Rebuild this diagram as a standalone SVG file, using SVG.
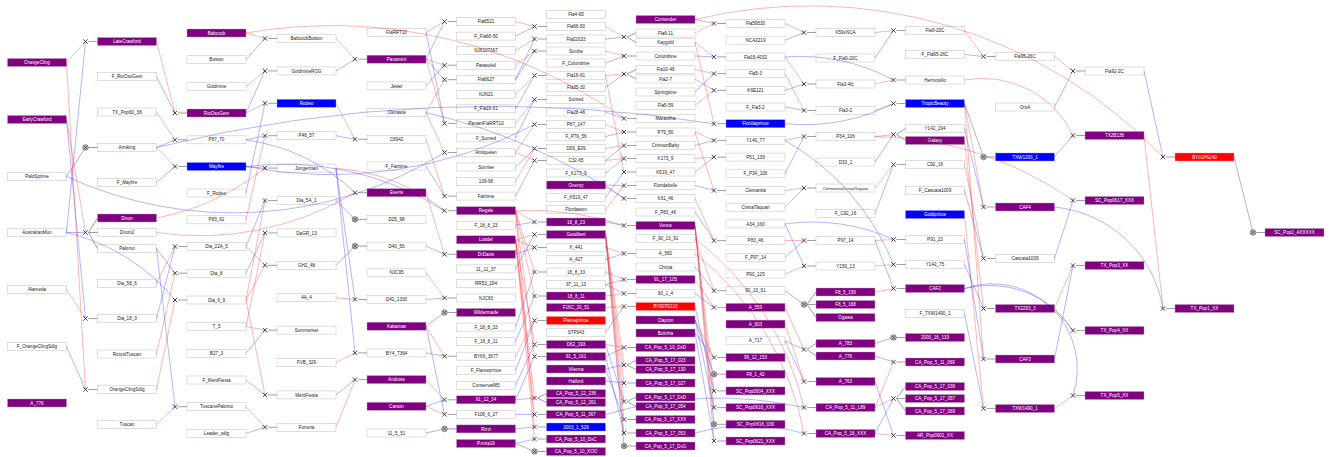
<svg xmlns="http://www.w3.org/2000/svg" xmlns:xlink="http://www.w3.org/1999/xlink" width="1329" height="457" viewBox="0 0 1329 457">
<style>
rect{width:59px;height:8px}
.w{fill:#fff;stroke:#c8c8c8;stroke-width:.6}
.p{fill:#800080;stroke:#b9a0c0;stroke-width:.4}
.b{fill:#0000ff;stroke:#a0a0ff;stroke-width:.4}
.rd{fill:#ff0000;stroke:#ffa0a0;stroke-width:.4}
text{font-family:"Liberation Sans",Arial,sans-serif;font-size:4.6px;text-anchor:middle}
.tk{fill:#222}
.tw{fill:#fff}
#conn path{fill:none;stroke-width:.9}
#conn .r{stroke:#ff0000;stroke-opacity:.33}
#conn .u{stroke:#0000ff;stroke-opacity:.33}
#conn .s{stroke:#8a6a90;stroke-opacity:.6}
#conn .g{stroke:#777;stroke-width:.7}
</style>
<defs>
<g id="cx"><path d="M-2.2-2.2L2.2 2.2M-2.2 2.2L2.2-2.2" fill="none" stroke="#333" stroke-width=".9"/></g>
<g id="co"><circle r="2.8" fill="#bbb" stroke="#555" stroke-width=".6"/><path d="M-1.7-1.7L1.7 1.7M-1.7 1.7L1.7-1.7" fill="none" stroke="#333" stroke-width=".7"/></g>
</defs>
<rect x="0" y="0" style="width:1329px;height:457px" fill="#fff"/>
<g id="nodes">
<g id="n-OrangeCling"><rect class="p" x="7.5" y="58.5"/><text class="tw" x="37" y="64.1">OrangeCling</text></g>
<g id="n-EarlyCrawford"><rect class="p" x="7.5" y="115.5"/><text class="tw" x="37" y="121.1">EarlyCrawford</text></g>
<g id="n-PaloSprime"><rect class="w" x="7.5" y="172.5"/><text class="tk" x="37" y="178.1">PaloSprime</text></g>
<g id="n-AustralianMun"><rect class="w" x="7.5" y="228.5"/><text class="tk" x="37" y="234.1">AustralianMun</text></g>
<g id="n-Alameda"><rect class="w" x="7.5" y="285.5"/><text class="tk" x="37" y="291.1">Alameda</text></g>
<g id="n-F_OrangeClingSdlg"><rect class="w" x="7.5" y="342.5"/><text class="tk" x="37" y="348.1">F_OrangeClingSdlg</text></g>
<g id="n-A_776"><rect class="p" x="7.5" y="399"/><text class="tw" x="37" y="404.6">A_776</text></g>

<g id="n-LateCrawford"><rect class="p" x="97.5" y="37.5"/><text class="tw" x="127" y="43.1">LateCrawford</text></g>
<g id="n-F_RioOsoGem"><rect class="w" x="97.5" y="72.5"/><text class="tk" x="127" y="78.1">F_RioOsoGem</text></g>
<g id="n-TX_Pop60_38"><rect class="w" x="97.5" y="108"/><text class="tk" x="127" y="113.6">TX_Pop60_38</text></g>
<g id="n-Armking"><rect class="w" x="97.5" y="143.5"/><text class="tk" x="127" y="149.1">Armking</text></g>
<g id="n-F_Mayfire"><rect class="w" x="97.5" y="178.5"/><text class="tk" x="127" y="184.1">F_Mayfire</text></g>
<g id="n-Dixon"><rect class="p" x="97.5" y="214"/><text class="tw" x="127" y="219.6">Dixon</text></g>
<g id="n-Dixon2"><rect class="w" x="97.5" y="228.5"/><text class="tk" x="127" y="234.1">Dixon2</text></g>
<g id="n-Palomo"><rect class="w" x="97.5" y="244.5"/><text class="tk" x="127" y="250.1">Palomo</text></g>
<g id="n-Dia_58_6"><rect class="w" x="97.5" y="279.5"/><text class="tk" x="127" y="285.1">Dia_58_6</text></g>
<g id="n-Dia_18_3"><rect class="w" x="97.5" y="314.5"/><text class="tk" x="127" y="320.1">Dia_18_3</text></g>
<g id="n-RoundTuscan"><rect class="w" x="97.5" y="350"/><text class="tk" x="127" y="355.6">RoundTuscan</text></g>
<g id="n-OrangeClingSdlg"><rect class="w" x="97.5" y="385.5"/><text class="tk" x="127" y="391.1">OrangeClingSdlg</text></g>
<g id="n-Tuscan"><rect class="w" x="97.5" y="420.5"/><text class="tk" x="127" y="426.1">Tuscan</text></g>

<g id="n-Babcock"><rect class="p" x="187" y="29"/><text class="tw" x="216.5" y="34.6">Babcock</text></g>
<g id="n-Boston"><rect class="w" x="187" y="55.7"/><text class="tk" x="216.5" y="61.3">Boston</text></g>
<g id="n-Goldmine"><rect class="w" x="187" y="82.4"/><text class="tk" x="216.5" y="88">Goldmine</text></g>
<g id="n-RioOsoGem"><rect class="p" x="187" y="109"/><text class="tw" x="216.5" y="114.6">RioOsoGem</text></g>
<g id="n-P87_70"><rect class="w" x="187" y="135.8"/><text class="tk" x="216.5" y="141.4">P87_70</text></g>
<g id="n-Mayfire"><rect class="b" x="187" y="162.5"/><text class="tw" x="216.5" y="168.1">Mayfire</text></g>
<g id="n-F_Rodeo"><rect class="w" x="187" y="189"/><text class="tk" x="216.5" y="194.6">F_Rodeo</text></g>
<g id="n-P83_62"><rect class="w" x="187" y="215.8"/><text class="tk" x="216.5" y="221.4">P83_62</text></g>
<g id="n-Dia_22A_5"><rect class="w" x="187" y="242.5"/><text class="tk" x="216.5" y="248.1">Dia_22A_5</text></g>
<g id="n-Dia_8"><rect class="w" x="187" y="269.2"/><text class="tk" x="216.5" y="274.8">Dia_8</text></g>
<g id="n-Dia_6_9"><rect class="w" x="187" y="296"/><text class="tk" x="216.5" y="301.6">Dia_6_9</text></g>
<g id="n-T_5"><rect class="w" x="187" y="322.6"/><text class="tk" x="216.5" y="328.2">T_5</text></g>
<g id="n-B27_3"><rect class="w" x="187" y="349.3"/><text class="tk" x="216.5" y="354.9">B27_3</text></g>
<g id="n-F_MeritFiesta"><rect class="w" x="187" y="376"/><text class="tk" x="216.5" y="381.6">F_MeritFiesta</text></g>
<g id="n-TuscanePalomo"><rect class="w" x="187" y="402.7"/><text class="tk" x="216.5" y="408.3">TuscanePalomo</text></g>
<g id="n-Leader_sdlg"><rect class="w" x="187" y="429.4"/><text class="tk" x="216.5" y="435">Leader_sdlg</text></g>

<g id="n-BabcockBoston"><rect class="w" x="277" y="34.5"/><text class="tk" x="306.5" y="40.1">BabcockBoston</text></g>
<g id="n-GoldmineROG"><rect class="w" x="277" y="66.9"/><text class="tk" x="306.5" y="72.5">GoldmineROG</text></g>
<g id="n-Rodeo"><rect class="b" x="277" y="99.3"/><text class="tw" x="306.5" y="104.9">Rodeo</text></g>
<g id="n-P46_57"><rect class="w" x="277" y="131.7"/><text class="tk" x="306.5" y="137.3">P46_57</text></g>
<g id="n-Jungerman"><rect class="w" x="277" y="164.1"/><text class="tk" x="306.5" y="169.7">Jungerman</text></g>
<g id="n-Dia_5A_1"><rect class="w" x="277" y="196.5"/><text class="tk" x="306.5" y="202.1">Dia_5A_1</text></g>
<g id="n-DaGR_13"><rect class="w" x="277" y="228.9"/><text class="tk" x="306.5" y="234.5">DaGR_13</text></g>
<g id="n-GH2_48"><rect class="w" x="277" y="261.3"/><text class="tk" x="306.5" y="266.9">GH2_48</text></g>
<g id="n-4A_4"><rect class="w" x="277" y="293.7"/><text class="tk" x="306.5" y="299.3">4A_4</text></g>
<g id="n-Summerset"><rect class="w" x="277" y="326.1"/><text class="tk" x="306.5" y="331.7">Summerset</text></g>
<g id="n-FVB_329"><rect class="w" x="277" y="358.5"/><text class="tk" x="306.5" y="364.1">FVB_329</text></g>
<g id="n-MeritFiesta"><rect class="w" x="277" y="390.9"/><text class="tk" x="306.5" y="396.5">MeritFiesta</text></g>
<g id="n-Fortuna"><rect class="w" x="277" y="423.3"/><text class="tk" x="306.5" y="428.9">Fortuna</text></g>

<g id="n-FlaRRT10"><rect class="w" x="367" y="28.5"/><text class="tk" x="396.5" y="34.1">FlaRRT10</text></g>
<g id="n-Panamint"><rect class="p" x="367" y="55.2"/><text class="tw" x="396.5" y="60.8">Panamint</text></g>
<g id="n-Jewel"><rect class="w" x="367" y="81.9"/><text class="tk" x="396.5" y="87.5">Jewel</text></g>
<g id="n-Okinawa"><rect class="w" x="367" y="108.6"/><text class="tk" x="396.5" y="114.2">Okinawa</text></g>
<g id="n-C6942"><rect class="w" x="367" y="135.3"/><text class="tk" x="396.5" y="140.9">C6942</text></g>
<g id="n-F_Fairtime"><rect class="w" x="367" y="162"/><text class="tk" x="396.5" y="167.6">F_Fairtime</text></g>
<g id="n-Everts"><rect class="p" x="367" y="188.7"/><text class="tw" x="396.5" y="194.3">Everts</text></g>
<g id="n-D25_98"><rect class="w" x="367" y="215.4"/><text class="tk" x="396.5" y="221">D25_98</text></g>
<g id="n-D40_56"><rect class="w" x="367" y="242.1"/><text class="tk" x="396.5" y="247.7">D40_56</text></g>
<g id="n-NJC95"><rect class="w" x="367" y="268.8"/><text class="tk" x="396.5" y="274.4">NJC95</text></g>
<g id="n-D42_1330"><rect class="w" x="367" y="295.5"/><text class="tk" x="396.5" y="301.1">D42_1330</text></g>
<g id="n-Kakamas"><rect class="p" x="367" y="322.2"/><text class="tw" x="396.5" y="327.8">Kakamas</text></g>
<g id="n-BY4_T364"><rect class="w" x="367" y="348.9"/><text class="tk" x="396.5" y="354.5">BY4_T364</text></g>
<g id="n-Andross"><rect class="p" x="367" y="375.6"/><text class="tw" x="396.5" y="381.2">Andross</text></g>
<g id="n-Carson"><rect class="p" x="367" y="402.3"/><text class="tw" x="396.5" y="407.9">Carson</text></g>
<g id="n-11_5_51"><rect class="w" x="367" y="429"/><text class="tk" x="396.5" y="434.6">11_5_51</text></g>

<g id="n-Fla6521"><rect class="w" x="456.5" y="17.5"/><text class="tk" x="486" y="23.1">Fla6521</text></g>
<g id="n-F_Fla66-50"><rect class="w" x="456.5" y="32.1"/><text class="tk" x="486" y="37.7">F_Fla66-50</text></g>
<g id="n-NJ6107367"><rect class="w" x="456.5" y="46.6"/><text class="tk" x="486" y="52.2">NJ6107367</text></g>
<g id="n-Parasoleil"><rect class="w" x="456.5" y="61.2"/><text class="tk" x="486" y="66.8">Parasoleil</text></g>
<g id="n-Fla6627"><rect class="w" x="456.5" y="75.7"/><text class="tk" x="486" y="81.3">Fla6627</text></g>
<g id="n-NJN21"><rect class="w" x="456.5" y="90.3"/><text class="tk" x="486" y="95.9">NJN21</text></g>
<g id="n-F_Fla16-61"><rect class="w" x="456.5" y="104.8"/><text class="tk" x="486" y="110.4">F_Fla16-61</text></g>
<g id="n-PanamFlaRRT10"><rect class="w" x="456.5" y="119.4"/><text class="tk" x="486" y="125">PanamFlaRRT10</text></g>
<g id="n-F_Sunred"><rect class="w" x="456.5" y="133.9"/><text class="tk" x="486" y="139.5">F_Sunred</text></g>
<g id="n-Amiquelen"><rect class="w" x="456.5" y="148.5"/><text class="tk" x="486" y="154.1">Amiquelen</text></g>
<g id="n-Sunrise"><rect class="w" x="456.5" y="163"/><text class="tk" x="486" y="168.6">Sunrise</text></g>
<g id="n-109-96"><rect class="w" x="456.5" y="177.6"/><text class="tk" x="486" y="183.2">109-96</text></g>
<g id="n-Fairtime"><rect class="w" x="456.5" y="192.1"/><text class="tk" x="486" y="197.7">Fairtime</text></g>
<g id="n-Regale"><rect class="p" x="456.5" y="206.7"/><text class="tw" x="486" y="212.3">Regale</text></g>
<g id="n-F_18_8_23"><rect class="w" x="456.5" y="221.2"/><text class="tk" x="486" y="226.8">F_18_8_23</text></g>
<g id="n-Loadel"><rect class="p" x="456.5" y="235.8"/><text class="tw" x="486" y="241.4">Loadel</text></g>
<g id="n-DrDavis"><rect class="p" x="456.5" y="250.3"/><text class="tw" x="486" y="255.9">DrDavis</text></g>
<g id="n-11_11_37"><rect class="w" x="456.5" y="264.9"/><text class="tk" x="486" y="270.5">11_11_37</text></g>
<g id="n-RR53_194"><rect class="w" x="456.5" y="279.4"/><text class="tk" x="486" y="285">RR53_194</text></g>
<g id="n-NJC83"><rect class="w" x="456.5" y="294"/><text class="tk" x="486" y="299.6">NJC83</text></g>
<g id="n-Wildermade"><rect class="p" x="456.5" y="308.5"/><text class="tw" x="486" y="314.1">Wildermade</text></g>
<g id="n-F_18_8_33"><rect class="w" x="456.5" y="323.1"/><text class="tk" x="486" y="328.7">F_18_8_33</text></g>
<g id="n-F_18_8_11"><rect class="w" x="456.5" y="337.6"/><text class="tk" x="486" y="343.2">F_18_8_11</text></g>
<g id="n-BY66_3677"><rect class="w" x="456.5" y="352.2"/><text class="tk" x="486" y="357.8">BY66_3677</text></g>
<g id="n-F_Flameprince"><rect class="w" x="456.5" y="366.7"/><text class="tk" x="486" y="372.3">F_Flameprince</text></g>
<g id="n-Conserva485"><rect class="w" x="456.5" y="381.3"/><text class="tk" x="486" y="386.9">Conserva485</text></g>
<g id="n-91_12_34"><rect class="p" x="456.5" y="395.8"/><text class="tw" x="486" y="401.4">91_12_34</text></g>
<g id="n-F108_6_27"><rect class="w" x="456.5" y="410.4"/><text class="tk" x="486" y="416">F108_6_27</text></g>
<g id="n-Rizzi"><rect class="p" x="456.5" y="424.9"/><text class="tw" x="486" y="430.5">Rizzi</text></g>
<g id="n-P.mira19"><rect class="p" x="456.5" y="439.5"/><text class="tw" x="486" y="445.1">P.mira19</text></g>

<g id="n-Fla4-65"><rect class="w" x="546.5" y="10.5"/><text class="tk" x="576" y="16.1">Fla4-65</text></g>
<g id="n-Fla66-50"><rect class="w" x="546.5" y="22.5"/><text class="tk" x="576" y="28.1">Fla66-50</text></g>
<g id="n-Fla02033"><rect class="w" x="546.5" y="35"/><text class="tk" x="576" y="40.6">Fla02033</text></g>
<g id="n-Sunlite"><rect class="w" x="546.5" y="47"/><text class="tk" x="576" y="52.6">Sunlite</text></g>
<g id="n-F_Columbine"><rect class="w" x="546.5" y="59"/><text class="tk" x="576" y="64.6">F_Columbine</text></g>
<g id="n-Fla16-61"><rect class="w" x="546.5" y="71.5"/><text class="tk" x="576" y="77.1">Fla16-61</text></g>
<g id="n-Fla35-30"><rect class="w" x="546.5" y="83.5"/><text class="tk" x="576" y="89.1">Fla35-30</text></g>
<g id="n-Sunred"><rect class="w" x="546.5" y="95.5"/><text class="tk" x="576" y="101.1">Sunred</text></g>
<g id="n-Fla28-46"><rect class="w" x="546.5" y="108"/><text class="tk" x="576" y="113.6">Fla28-46</text></g>
<g id="n-P87_147"><rect class="w" x="546.5" y="120.5"/><text class="tk" x="576" y="126.1">P87_147</text></g>
<g id="n-F_P79_56"><rect class="w" x="546.5" y="132.5"/><text class="tk" x="576" y="138.1">F_P79_56</text></g>
<g id="n-D09_E09"><rect class="w" x="546.5" y="144.5"/><text class="tk" x="576" y="150.1">D09_E09</text></g>
<g id="n-C32-65"><rect class="w" x="546.5" y="156.5"/><text class="tk" x="576" y="162.1">C32-65</text></g>
<g id="n-F_K173_9"><rect class="w" x="546.5" y="169"/><text class="tk" x="576" y="174.6">F_K173_9</text></g>
<g id="n-Oneroy"><rect class="p" x="546.5" y="181"/><text class="tw" x="576" y="186.6">Oneroy</text></g>
<g id="n-F_K519_47"><rect class="w" x="546.5" y="193.5"/><text class="tk" x="576" y="199.1">F_K519_47</text></g>
<g id="n-Flordawon"><rect class="w" x="546.5" y="205.5"/><text class="tk" x="576" y="211.1">Flordawon</text></g>
<g id="n-18_8_23"><rect class="p" x="546.5" y="218"/><text class="tw" x="576" y="223.6">18_8_23</text></g>
<g id="n-Goodbert"><rect class="p" x="546.5" y="230.5"/><text class="tw" x="576" y="236.1">Goodbert</text></g>
<g id="n-X_441"><rect class="w" x="546.5" y="243.5"/><text class="tk" x="576" y="249.1">X_441</text></g>
<g id="n-A_427"><rect class="w" x="546.5" y="255.5"/><text class="tk" x="576" y="261.1">A_427</text></g>
<g id="n-18_8_33"><rect class="w" x="546.5" y="268"/><text class="tk" x="576" y="273.6">18_8_33</text></g>
<g id="n-97_11_13"><rect class="w" x="546.5" y="280.5"/><text class="tk" x="576" y="286.1">97_11_13</text></g>
<g id="n-18_8_11"><rect class="p" x="546.5" y="292"/><text class="tw" x="576" y="297.6">18_8_11</text></g>
<g id="n-F16C_20_51"><rect class="p" x="546.5" y="303.5"/><text class="tw" x="576" y="309.1">F16C_20_51</text></g>
<g id="n-Flameprince"><rect class="rd" x="546.5" y="316.5"/><text class="tw" x="576" y="322.1">Flameprince</text></g>
<g id="n-STP943"><rect class="w" x="546.5" y="328.5"/><text class="tk" x="576" y="334.1">STP943</text></g>
<g id="n-D62_193"><rect class="p" x="546.5" y="340.5"/><text class="tw" x="576" y="346.1">D62_193</text></g>
<g id="n-91_5_161"><rect class="p" x="546.5" y="352.5"/><text class="tw" x="576" y="358.1">91_5_161</text></g>
<g id="n-Vilenna"><rect class="p" x="546.5" y="365"/><text class="tw" x="576" y="370.6">Vilenna</text></g>
<g id="n-Halford"><rect class="p" x="546.5" y="377"/><text class="tw" x="576" y="382.6">Halford</text></g>
<g id="n-CA_Pop_5_12_236"><rect class="p" x="546.5" y="389.5"/><text class="tw" x="576" y="395.1">CA_Pop_5_12_236</text></g>
<g id="n-CA_Pop_5_12_261"><rect class="p" x="546.5" y="398.5"/><text class="tw" x="576" y="404.1">CA_Pop_5_12_261</text></g>
<g id="n-CA_Pop_5_11_367"><rect class="p" x="546.5" y="410.5"/><text class="tw" x="576" y="416.1">CA_Pop_5_11_367</text></g>
<g id="n-2003_1_526"><rect class="b" x="546.5" y="423"/><text class="tw" x="576" y="428.6">2003_1_526</text></g>
<g id="n-CA_Pop_5_10_DxC"><rect class="p" x="546.5" y="435"/><text class="tw" x="576" y="440.6">CA_Pop_5_10_DxC</text></g>
<g id="n-CA_Pop_5_10_XOO"><rect class="p" x="546.5" y="447.5"/><text class="tw" x="576" y="453.1">CA_Pop_5_10_XOO</text></g>

<g id="n-Contender"><rect class="p" x="636" y="15.5"/><text class="tw" x="665.5" y="21.1">Contender</text></g>
<g id="n-Fla6-11"><rect class="w" x="636" y="29"/><text class="tk" x="665.5" y="34.6">Fla6-11</text></g>
<g id="n-Kaygold"><rect class="w" x="636" y="38.5"/><text class="tk" x="665.5" y="44.1">Kaygold</text></g>
<g id="n-Columbine"><rect class="w" x="636" y="52"/><text class="tk" x="665.5" y="57.6">Columbine</text></g>
<g id="n-Fla10-46"><rect class="w" x="636" y="65.5"/><text class="tk" x="665.5" y="71.1">Fla10-46</text></g>
<g id="n-Fla2-7"><rect class="w" x="636" y="75"/><text class="tk" x="665.5" y="80.6">Fla2-7</text></g>
<g id="n-Springtime"><rect class="w" x="636" y="88"/><text class="tk" x="665.5" y="93.6">Springtime</text></g>
<g id="n-Fla5-59"><rect class="w" x="636" y="101.5"/><text class="tk" x="665.5" y="107.1">Fla5-59</text></g>
<g id="n-Maravilha"><rect class="w" x="636" y="114.5"/><text class="tk" x="665.5" y="120.1">Maravilha</text></g>
<g id="n-P79_56"><rect class="w" x="636" y="128"/><text class="tk" x="665.5" y="133.6">P79_56</text></g>
<g id="n-CrimsonBaby"><rect class="w" x="636" y="141.5"/><text class="tk" x="665.5" y="147.1">CrimsonBaby</text></g>
<g id="n-K173_9"><rect class="w" x="636" y="154.5"/><text class="tk" x="665.5" y="160.1">K173_9</text></g>
<g id="n-K519_47"><rect class="w" x="636" y="168"/><text class="tk" x="665.5" y="173.6">K519_47</text></g>
<g id="n-Floridabelle"><rect class="w" x="636" y="181.5"/><text class="tk" x="665.5" y="187.1">Floridabelle</text></g>
<g id="n-K61_46"><rect class="w" x="636" y="194.5"/><text class="tk" x="665.5" y="200.1">K61_46</text></g>
<g id="n-F_P83_46"><rect class="w" x="636" y="208"/><text class="tk" x="665.5" y="213.6">F_P83_46</text></g>
<g id="n-Venus"><rect class="p" x="636" y="221.5"/><text class="tw" x="665.5" y="227.1">Venus</text></g>
<g id="n-F_90_10_91"><rect class="w" x="636" y="234.5"/><text class="tk" x="665.5" y="240.1">F_90_10_91</text></g>
<g id="n-A_560"><rect class="w" x="636" y="249.5"/><text class="tk" x="665.5" y="255.1">A_560</text></g>
<g id="n-Chirpa"><rect class="w" x="636" y="263"/><text class="tk" x="665.5" y="268.6">Chirpa</text></g>
<g id="n-91_17_105"><rect class="p" x="636" y="275.5"/><text class="tw" x="665.5" y="281.1">91_17_105</text></g>
<g id="n-90_1_4"><rect class="w" x="636" y="289.5"/><text class="tk" x="665.5" y="295.1">90_1_4</text></g>
<g id="n-BY92P2110"><rect class="rd" x="636" y="302.5"/><text class="tw" x="665.5" y="308.1">BY92P2110</text></g>
<g id="n-Clayton"><rect class="p" x="636" y="316"/><text class="tw" x="665.5" y="321.6">Clayton</text></g>
<g id="n-Bolinha"><rect class="p" x="636" y="329"/><text class="tw" x="665.5" y="334.6">Bolinha</text></g>
<g id="n-CA_Pop_5_10_DxD"><rect class="p" x="636" y="343.5"/><text class="tw" x="665.5" y="349.1">CA_Pop_5_10_DxD</text></g>
<g id="n-CA_Pop_5_17_023"><rect class="p" x="636" y="356.5"/><text class="tw" x="665.5" y="362.1">CA_Pop_5_17_023</text></g>
<g id="n-CA_Pop_5_17_130"><rect class="p" x="636" y="365.5"/><text class="tw" x="665.5" y="371.1">CA_Pop_5_17_130</text></g>
<g id="n-CA_Pop_5_17_027"><rect class="p" x="636" y="379"/><text class="tw" x="665.5" y="384.6">CA_Pop_5_17_027</text></g>
<g id="n-CA_Pop_5_17_DxD"><rect class="p" x="636" y="393"/><text class="tw" x="665.5" y="398.6">CA_Pop_5_17_DxD</text></g>
<g id="n-CA_Pop_5_17_054"><rect class="p" x="636" y="402.5"/><text class="tw" x="665.5" y="408.1">CA_Pop_5_17_054</text></g>
<g id="n-CA_Pop_5_17_XXX"><rect class="p" x="636" y="415.5"/><text class="tw" x="665.5" y="421.1">CA_Pop_5_17_XXX</text></g>
<g id="n-CA_Pop_5_17_053"><rect class="p" x="636" y="429"/><text class="tw" x="665.5" y="434.6">CA_Pop_5_17_053</text></g>
<g id="n-CA_Pop_5_17_DxG"><rect class="p" x="636" y="442"/><text class="tw" x="665.5" y="447.6">CA_Pop_5_17_DxG</text></g>

<g id="n-Fla59530"><rect class="w" x="726" y="19.5"/><text class="tk" x="755.5" y="25.1">Fla59530</text></g>
<g id="n-NCA2219"><rect class="w" x="726" y="36.2"/><text class="tk" x="755.5" y="41.8">NCA2219</text></g>
<g id="n-Fla15-4032"><rect class="w" x="726" y="52.9"/><text class="tk" x="755.5" y="58.5">Fla15-4032</text></g>
<g id="n-Fla5-3"><rect class="w" x="726" y="69.6"/><text class="tk" x="755.5" y="75.2">Fla5-3</text></g>
<g id="n-K6E121"><rect class="w" x="726" y="86.3"/><text class="tk" x="755.5" y="91.9">K6E121</text></g>
<g id="n-F_Fla3-2"><rect class="w" x="726" y="103"/><text class="tk" x="755.5" y="108.6">F_Fla3-2</text></g>
<g id="n-Floridaprince"><rect class="b" x="726" y="119.7"/><text class="tw" x="755.5" y="125.3">Floridaprince</text></g>
<g id="n-Y140_77"><rect class="w" x="726" y="136.4"/><text class="tk" x="755.5" y="142">Y140_77</text></g>
<g id="n-P51_139"><rect class="w" x="726" y="153.1"/><text class="tk" x="755.5" y="158.7">P51_139</text></g>
<g id="n-F_P34_106"><rect class="w" x="726" y="169.8"/><text class="tk" x="755.5" y="175.4">F_P34_106</text></g>
<g id="n-Clemantia"><rect class="w" x="726" y="186.5"/><text class="tk" x="755.5" y="192.1">Clemantia</text></g>
<g id="n-CristalTaquari"><rect class="w" x="726" y="203.2"/><text class="tk" x="755.5" y="208.8">CristalTaquari</text></g>
<g id="n-A34_160"><rect class="w" x="726" y="219.9"/><text class="tk" x="755.5" y="225.5">A34_160</text></g>
<g id="n-P83_46"><rect class="w" x="726" y="236.6"/><text class="tk" x="755.5" y="242.2">P83_46</text></g>
<g id="n-F_P97_14"><rect class="w" x="726" y="253.3"/><text class="tk" x="755.5" y="258.9">F_P97_14</text></g>
<g id="n-P90_125"><rect class="w" x="726" y="270"/><text class="tk" x="755.5" y="275.6">P90_125</text></g>
<g id="n-90_10_91"><rect class="w" x="726" y="286.7"/><text class="tk" x="755.5" y="292.3">90_10_91</text></g>
<g id="n-A_559"><rect class="p" x="726" y="303.4"/><text class="tw" x="755.5" y="309">A_559</text></g>
<g id="n-A_603"><rect class="p" x="726" y="320.1"/><text class="tw" x="755.5" y="325.7">A_603</text></g>
<g id="n-A_717"><rect class="w" x="726" y="336.8"/><text class="tk" x="755.5" y="342.4">A_717</text></g>
<g id="n-99_12_153"><rect class="p" x="726" y="353.5"/><text class="tw" x="755.5" y="359.1">99_12_153</text></g>
<g id="n-F8_1_42"><rect class="p" x="726" y="370.2"/><text class="tw" x="755.5" y="375.8">F8_1_42</text></g>
<g id="n-SC_Pop0604_XXX"><rect class="p" x="726" y="386.9"/><text class="tw" x="755.5" y="392.5">SC_Pop0604_XXX</text></g>
<g id="n-SC_Pop0616_XXX"><rect class="p" x="726" y="403.6"/><text class="tw" x="755.5" y="409.2">SC_Pop0616_XXX</text></g>
<g id="n-SC_Pop0616_030"><rect class="p" x="726" y="420.3"/><text class="tw" x="755.5" y="425.9">SC_Pop0616_030</text></g>
<g id="n-SC_Pop0621_XXX"><rect class="p" x="726" y="437"/><text class="tw" x="755.5" y="442.6">SC_Pop0621_XXX</text></g>

<g id="n-K59xNCA"><rect class="w" x="816" y="28.5"/><text class="tk" x="845.5" y="34.1">K59xNCA</text></g>
<g id="n-F_Fla9-20C"><rect class="w" x="816" y="54"/><text class="tk" x="845.5" y="59.6">F_Fla9-20C</text></g>
<g id="n-Fla3-4fc"><rect class="w" x="816" y="80"/><text class="tk" x="845.5" y="85.6">Fla3-4fc</text></g>
<g id="n-Fla3-2"><rect class="w" x="816" y="106.5"/><text class="tk" x="845.5" y="112.1">Fla3-2</text></g>
<g id="n-P34_106"><rect class="w" x="816" y="132.5"/><text class="tk" x="845.5" y="138.1">P34_106</text></g>
<g id="n-D33_1"><rect class="w" x="816" y="158"/><text class="tk" x="845.5" y="163.6">D33_1</text></g>
<g id="n-ClemantiaxCristalTaquari"><rect class="w" x="816" y="184"/><text class="tk" x="845.5" y="189.5" style="font-size:4.1px">ClemantiaxCristalTaquari</text></g>
<g id="n-F_C92_16"><rect class="w" x="816" y="209.5"/><text class="tk" x="845.5" y="215.1">F_C92_16</text></g>
<g id="n-P97_14"><rect class="w" x="816" y="236.5"/><text class="tk" x="845.5" y="242.1">P97_14</text></g>
<g id="n-Y150_13"><rect class="w" x="816" y="262"/><text class="tk" x="845.5" y="267.6">Y150_13</text></g>
<g id="n-F8_5_159"><rect class="p" x="816" y="288"/><text class="tw" x="845.5" y="293.6">F8_5_159</text></g>
<g id="n-F8_5_168"><rect class="p" x="816" y="300.5"/><text class="tw" x="845.5" y="306.1">F8_5_168</text></g>
<g id="n-Ogawa"><rect class="p" x="816" y="313.5"/><text class="tw" x="845.5" y="319.1">Ogawa</text></g>
<g id="n-A_783"><rect class="p" x="816" y="339.5"/><text class="tw" x="845.5" y="345.1">A_783</text></g>
<g id="n-A_776b"><rect class="p" x="816" y="352"/><text class="tw" x="845.5" y="357.6">A_776</text></g>
<g id="n-A_763"><rect class="p" x="816" y="377.5"/><text class="tw" x="845.5" y="383.1">A_763</text></g>
<g id="n-CA_Pop_5_11_L89"><rect class="p" x="816" y="403.5"/><text class="tw" x="845.5" y="409.1">CA_Pop_5_11_L89</text></g>
<g id="n-CA_Pop_5_16_XXX"><rect class="p" x="816" y="429.5"/><text class="tw" x="845.5" y="435.1">CA_Pop_5_16_XXX</text></g>

<g id="n-Fla9-20C"><rect class="w" x="905.5" y="26.5"/><text class="tk" x="935" y="32.1">Fla9-20C</text></g>
<g id="n-F_Fla95-26C"><rect class="w" x="905.5" y="50.5"/><text class="tk" x="935" y="56.1">F_Fla95-26C</text></g>
<g id="n-Hermosillo"><rect class="w" x="905.5" y="76"/><text class="tk" x="935" y="81.6">Hermosillo</text></g>
<g id="n-TropicBeauty"><rect class="b" x="905.5" y="99.5"/><text class="tw" x="935" y="105.1">TropicBeauty</text></g>
<g id="n-Y142_194"><rect class="w" x="905.5" y="124.5"/><text class="tk" x="935" y="130.1">Y142_194</text></g>
<g id="n-Galaxy"><rect class="p" x="905.5" y="136.5"/><text class="tw" x="935" y="142.1">Galaxy</text></g>
<g id="n-C92_16"><rect class="w" x="905.5" y="160.5"/><text class="tk" x="935" y="166.1">C92_16</text></g>
<g id="n-F_Cascata1009"><rect class="w" x="905.5" y="186.5"/><text class="tk" x="935" y="192.1">F_Cascata1009</text></g>
<g id="n-Goldprince"><rect class="b" x="905.5" y="210.5"/><text class="tw" x="935" y="216.1">Goldprince</text></g>
<g id="n-P91_23"><rect class="w" x="905.5" y="235.5"/><text class="tk" x="935" y="241.1">P91_23</text></g>
<g id="n-Y142_75"><rect class="w" x="905.5" y="260.5"/><text class="tk" x="935" y="266.1">Y142_75</text></g>
<g id="n-CAF2"><rect class="p" x="905.5" y="284.5"/><text class="tw" x="935" y="290.1">CAF2</text></g>
<g id="n-F_TXW1490_1"><rect class="w" x="905.5" y="309.5"/><text class="tk" x="935" y="315.1">F_TXW1490_1</text></g>
<g id="n-2000_16_133"><rect class="p" x="905.5" y="333.5"/><text class="tw" x="935" y="339.1">2000_16_133</text></g>
<g id="n-CA_Pop_5_11_069"><rect class="p" x="905.5" y="358"/><text class="tw" x="935" y="363.6">CA_Pop_5_11_069</text></g>
<g id="n-CA_Pop_5_17_039"><rect class="p" x="905.5" y="382.5"/><text class="tw" x="935" y="388.1">CA_Pop_5_17_039</text></g>
<g id="n-CA_Pop_5_17_057"><rect class="p" x="905.5" y="394.5"/><text class="tw" x="935" y="400.1">CA_Pop_5_17_057</text></g>
<g id="n-CA_Pop_5_17_069"><rect class="p" x="905.5" y="407"/><text class="tw" x="935" y="412.6">CA_Pop_5_17_069</text></g>
<g id="n-AR_Pop0601_XX"><rect class="p" x="905.5" y="431.5"/><text class="tw" x="935" y="437.1">AR_Pop0601_XX</text></g>

<g id="n-Fla95-26C"><rect class="w" x="995.5" y="52.5"/><text class="tk" x="1025" y="58.1">Fla95-26C</text></g>
<g id="n-OroA"><rect class="w" x="995.5" y="103"/><text class="tk" x="1025" y="108.6">OroA</text></g>
<g id="n-TXW1293_1"><rect class="b" x="995.5" y="153"/><text class="tw" x="1025" y="158.6">TXW1293_1</text></g>
<g id="n-CAF4"><rect class="p" x="995.5" y="203"/><text class="tw" x="1025" y="208.6">CAF4</text></g>
<g id="n-Cascata1009"><rect class="w" x="995.5" y="254.5"/><text class="tk" x="1025" y="260.1">Cascata1009</text></g>
<g id="n-TX2293_3"><rect class="p" x="995.5" y="304.5"/><text class="tw" x="1025" y="310.1">TX2293_3</text></g>
<g id="n-CAF3"><rect class="p" x="995.5" y="355"/><text class="tw" x="1025" y="360.6">CAF3</text></g>
<g id="n-TXW1490_1"><rect class="p" x="995.5" y="404.5"/><text class="tw" x="1025" y="410.1">TXW1490_1</text></g>

<g id="n-Fla92-2C"><rect class="w" x="1085" y="67"/><text class="tk" x="1114.5" y="72.6">Fla92-2C</text></g>
<g id="n-TX2B136"><rect class="p" x="1085" y="131.5"/><text class="tw" x="1114.5" y="137.1">TX2B136</text></g>
<g id="n-SC_Pop0617_XXX"><rect class="p" x="1085" y="196.5"/><text class="tw" x="1114.5" y="202.1">SC_Pop0617_XXX</text></g>
<g id="n-TX_Pop3_XX"><rect class="p" x="1085" y="261.5"/><text class="tw" x="1114.5" y="267.1">TX_Pop3_XX</text></g>
<g id="n-TX_Pop4_XX"><rect class="p" x="1085" y="326.5"/><text class="tw" x="1114.5" y="332.1">TX_Pop4_XX</text></g>
<g id="n-TX_Pop5_XX"><rect class="p" x="1085" y="391.5"/><text class="tw" x="1114.5" y="397.1">TX_Pop5_XX</text></g>

<g id="n-BY01P6240"><rect class="rd" x="1175" y="153"/><text class="tw" x="1204.5" y="158.6">BY01P6240</text></g>
<g id="n-TX_Pop1_XX"><rect class="p" x="1175" y="304.5"/><text class="tw" x="1204.5" y="310.1">TX_Pop1_XX</text></g>
<g id="n-SC_Pop2_AXXXXX"><rect class="p" x="1265" y="228.5"/><text class="tw" x="1294.5" y="234.1">SC_Pop2_AXXXXX</text></g>
</g>

<g id="conn">
<path class="r" d="M66.5 62.5L85.5 41.5"/><path class="u" d="M66.5 232.5L85.5 41.5"/>
<path class="s" d="M66.5 176.5L85.5 147.5"/>
<path class="r" d="M66.5 119.5L85.5 232.5"/><path class="u" d="M66.5 232.5L85.5 232.5"/>
<path class="r" d="M66.5 289.5L85.5 318.5"/><path class="u" d="M66.5 119.5L85.5 318.5"/>
<path class="r" d="M66.5 62.5L85.5 389.5"/><path class="u" d="M66.5 346.5L85.5 389.5"/>

<path class="r" d="M156.5 41.5L175 113"/><path class="u" d="M156.5 76.5L175 113"/>
<path class="r" d="M156.5 112L175 139.8"/><path class="u" d="M156.5 147.5L175 139.8"/>
<path class="r" d="M156.5 147.5L175 166.5"/><path class="u" d="M156.5 182.5L175 166.5"/>
<path class="r" d="M156.5 283.5L175 246.5"/><path class="u" d="M156.5 318.5L175 246.5"/>
<path class="r" d="M156.5 354L175 273.2"/><path class="u" d="M156.5 248.5L175 273.2"/>
<path class="r" d="M156.5 389.5L175 300"/><path class="u" d="M66.5 232.5A200 200 0 0 1 175 300"/>
<path class="r" d="M156.5 424.5L175 406.7"/><path class="u" d="M156.5 248.5L175 406.7"/>

<path class="r" d="M246 33L265 38.5"/><path class="u" d="M246 59.7L265 38.5"/>
<path class="r" d="M246 86.4L265 70.9"/><path class="u" d="M246 113L265 70.9"/>
<path class="r" d="M246 113L265 103.3"/><path class="u" d="M246 193L265 103.3"/>
<path class="r" d="M246 219.8L265 135.7"/><path class="u" d="M246 139.8L265 135.7"/>
<path class="r" d="M156.5 218A250 250 0 0 0 265 168.1"/><path class="u" d="M246 166.5L265 168.1"/>
<path class="r" d="M246 300L265 200.5"/><path class="u" d="M246 246.5L265 200.5"/>
<path class="r" d="M246 326.6L265 232.9"/><path class="u" d="M246 273.2L265 232.9"/>
<path class="r" d="M246 300L265 265.3"/><path class="u" d="M246 246.5L265 265.3"/>
<path class="r" d="M246 326.6L265 330.1"/><path class="u" d="M246 353.3L265 330.1"/>
<path class="r" d="M246 300L265 394.9"/><path class="u" d="M246 380L265 394.9"/>
<path class="r" d="M246 406.7L265 427.3"/><path class="u" d="M246 433.4L265 427.3"/>

<path class="r" d="M336 38.5L355 59.2"/><path class="u" d="M336 70.9L355 59.2"/>
<path class="r" d="M336 103.3L355 139.3"/><path class="u" d="M336 135.7L355 139.3"/>
<path class="r" d="M156.5 232.5A300 300 0 0 0 355 192.7"/><path class="u" d="M246 139.8A200 200 0 0 1 355 192.7"/>
<path class="s" d="M336 200.5L355 219.4"/>
<path class="s" d="M336 265.3L355 246.1"/>
<path class="r" d="M336 297.7L355 299.5"/><path class="u" d="M336 168.1L355 299.5"/>
<path class="r" d="M336 362.5L355 352.9"/><path class="u" d="M336 168.1L355 352.9"/>
<path class="r" d="M336 427.3L355 379.6"/><path class="u" d="M336 394.9L355 379.6"/>

<path class="r" d="M426 32.5L444.5 21.5"/><path class="u" d="M426 59.2L444.5 21.5"/>
<path class="r" d="M426 59.2L444.5 65.2"/><path class="u" d="M426 85.9L444.5 65.2"/>
<path class="r" d="M426 112.6L444.5 79.7"/><path class="u" d="M426 59.2L444.5 79.7"/>
<path class="r" d="M426 59.2L444.5 123.4"/><path class="u" d="M426 32.5L444.5 123.4"/>
<path class="r" d="M426 112.6L444.5 152.5"/><path class="u" d="M66.5 176.5A400 400 0 0 0 444.5 152.5"/>
<path class="r" d="M426 139.3L444.5 196.1"/><path class="u" d="M426 166L444.5 196.1"/>
<path class="r" d="M336 168.1A200 200 0 0 1 444.5 210.7"/><path class="u" d="M246 166.5A300 300 0 0 1 444.5 210.7"/>
<path class="r" d="M426 192.7L444.5 254.3"/><path class="u" d="M426 246.1L444.5 254.3"/>
<path class="r" d="M426 272.8L444.5 298"/><path class="u" d="M426 299.5L444.5 298"/>
<path class="s" d="M426 326.2L444.5 312.5"/>
<path class="r" d="M426 326.2L444.5 356.2"/><path class="u" d="M426 352.9L444.5 356.2"/>
<path class="r" d="M426 379.6L444.5 399.8"/><path class="u" d="M426 406.3L444.5 399.8"/>
<path class="r" d="M426 406.3L444.5 414.4"/><path class="u" d="M426 326.2L444.5 414.4"/>
<path class="s" d="M426 433L444.5 428.9"/>

<path class="r" d="M515.5 21.5L534.5 26.5"/><path class="u" d="M515.5 36.1L534.5 26.5"/>
<path class="r" d="M515.5 50.6L534.5 39"/><path class="u" d="M515.5 79.7L534.5 39"/>
<path class="r" d="M515.5 65.2L534.5 51"/><path class="u" d="M515.5 79.7L534.5 51"/>
<path class="r" d="M515.5 94.3L534.5 75.5"/><path class="u" d="M515.5 108.8L534.5 75.5"/>
<path class="r" d="M515.5 123.4L534.5 99.5"/><path class="u" d="M515.5 137.9L534.5 99.5"/>
<path class="r" d="M515.5 152.5L534.5 124.5"/><path class="u" d="M246 166.5A440 440 0 0 0 534.5 124.5"/>
<path class="r" d="M515.5 181.6L534.5 148.5"/><path class="u" d="M515.5 167L534.5 148.5"/>
<path class="r" d="M515.5 152.5L534.5 160.5"/><path class="u" d="M515.5 196.1L534.5 160.5"/>
<path class="r" d="M515.5 210.7L534.5 222"/><path class="u" d="M515.5 225.2L534.5 222"/>
<path class="r" d="M515.5 239.8L534.5 234.5"/><path class="u" d="M515.5 268.9L534.5 234.5"/>
<path class="r" d="M515.5 239.8L534.5 247.5"/><path class="u" d="M515.5 254.3L534.5 247.5"/>
<path class="r" d="M515.5 210.7L534.5 272"/><path class="u" d="M515.5 327.1L534.5 272"/>
<path class="r" d="M515.5 210.7L534.5 296"/><path class="u" d="M515.5 341.6L534.5 296"/>
<path class="r" d="M515.5 356.2L534.5 320.5"/><path class="u" d="M515.5 370.7L534.5 320.5"/>
<path class="r" d="M515.5 239.8L534.5 344.5"/><path class="u" d="M515.5 385.3L534.5 344.5"/>
<path class="r" d="M515.5 210.7L534.5 356.5"/><path class="u" d="M515.5 399.8L534.5 356.5"/>
<path class="r" d="M515.5 239.8L534.5 398"/><path class="u" d="M515.5 399.8L534.5 398"/>
<path class="r" d="M515.5 239.8L534.5 414.5"/><path class="u" d="M515.5 414.4L534.5 414.5"/>
<path class="r" d="M515.5 210.7L534.5 427"/><path class="u" d="M515.5 428.9L534.5 427"/>
<path class="r" d="M515.5 239.8L534.5 439"/><path class="u" d="M515.5 443.5L534.5 439"/>
<path class="s" d="M515.5 443.5L534.5 451.5"/>

<path class="r" d="M605.5 26.5L624 37"/><path class="u" d="M605.5 39L624 37"/>
<path class="r" d="M605.5 51L624 56"/><path class="u" d="M605.5 63L624 56"/>
<path class="r" d="M605.5 75.5L624 74"/><path class="u" d="M605.5 87.5L624 74"/>
<path class="r" d="M246 33A505 505 0 0 1 624 118.5"/><path class="u" d="M605.5 112L624 118.5"/>
<path class="r" d="M605.5 124.5L624 132"/><path class="u" d="M605.5 136.5L624 132"/>
<path class="r" d="M605.5 148.5L624 145.5"/><path class="u" d="M605.5 160.5L624 145.5"/>
<path class="r" d="M605.5 160.5L624 158.5"/><path class="u" d="M605.5 173L624 158.5"/>
<path class="r" d="M605.5 75.5L624 172"/><path class="u" d="M605.5 197.5L624 172"/>
<path class="r" d="M605.5 209.5L624 185.5"/><path class="u" d="M605.5 185L624 185.5"/>
<path class="r" d="M605.5 185L624 198.5"/><path class="u" d="M426 112.6A600 600 0 0 1 624 198.5"/>
<path class="r" d="M515.5 210.7A300 300 0 0 1 624 225.5"/><path class="u" d="M605.5 222L624 225.5"/>
<path class="r" d="M605.5 247.5L624 253.5"/><path class="u" d="M605.5 259.5L624 253.5"/>
<path class="r" d="M605.5 272L624 279.5"/><path class="u" d="M605.5 284.5L624 279.5"/>
<path class="r" d="M605.5 296L624 293.5"/><path class="u" d="M605.5 284.5L624 293.5"/>
<path class="r" d="M605.5 307.5L624 306.5"/><path class="u" d="M605.5 332.5L624 306.5"/>
<path class="r" d="M605.5 344.5L624 347.5"/><path class="u" d="M605.5 356.5L624 347.5"/>
<path class="r" d="M605.5 234.5L624 365"/><path class="u" d="M605.5 369L624 365"/>
<path class="r" d="M605.5 234.5L624 383"/><path class="u" d="M605.5 381L624 383"/>
<path class="r" d="M605.5 234.5L624 401.5"/><path class="u" d="M605.5 344.5L624 401.5"/>
<path class="r" d="M605.5 234.5L624 419.5"/><path class="u" d="M605.5 369L624 419.5"/>
<path class="r" d="M605.5 234.5L624 433"/><path class="u" d="M605.5 356.5L624 433"/>
<path class="s" d="M605.5 234.5L624 446"/>

<path class="r" d="M695 33L714 23.5"/><path class="u" d="M695 19.5L714 23.5"/>
<path class="r" d="M695 42.5L714 56.9"/><path class="u" d="M695 56L714 56.9"/>
<path class="r" d="M695 69.5L714 73.6"/><path class="u" d="M695 92L714 73.6"/>
<path class="r" d="M695 105.5L714 90.3"/><path class="u" d="M695 79L714 90.3"/>
<path class="r" d="M695 42.5L714 123.7"/><path class="u" d="M156.5 147.5A1400 1400 0 0 1 714 123.7"/>
<path class="r" d="M695 132L714 140.4"/><path class="u" d="M695 145.5L714 140.4"/>
<path class="r" d="M695 158.5L714 157.1"/><path class="u" d="M695 172L714 157.1"/>
<path class="r" d="M695 132L714 190.5"/><path class="u" d="M695 185.5L714 190.5"/>
<path class="r" d="M695 198.5L714 240.6"/><path class="u" d="M695 212L714 240.6"/>
<path class="r" d="M695 238.5L714 290.7"/><path class="u" d="M695 267L714 290.7"/>
<path class="r" d="M695 279.5L714 307.4"/><path class="u" d="M695 293.5L714 307.4"/>
<path class="r" d="M695 320L714 357.5"/><path class="u" d="M695 333L714 357.5"/>
<path class="s" d="M695 320L714 374.2"/>
<path class="r" d="M695 225.5L714 390.9"/><path class="u" d="M695 306.5L714 390.9"/>
<path class="r" d="M695 225.5L714 407.6"/><path class="u" d="M695 320L714 407.6"/>
<path class="s" d="M695 225.5L714 424.3"/>
<path class="r" d="M695 225.5L714 441"/><path class="u" d="M695 333L714 441"/>

<path class="r" d="M785 23.5L804 32.5"/><path class="u" d="M785 40.2L804 32.5"/>
<path class="r" d="M785 56.9L804 84"/><path class="u" d="M785 90.3L804 84"/>
<path class="r" d="M785 73.6L804 110.5"/><path class="u" d="M785 107L804 110.5"/>
<path class="r" d="M785 140.4L804 136.5"/><path class="u" d="M785 173.8L804 136.5"/>
<path class="r" d="M785 190.5L804 188"/><path class="u" d="M785 207.2L804 188"/>
<path class="r" d="M785 240.6L804 240.5"/><path class="u" d="M785 257.3L804 240.5"/>
<path class="r" d="M785 274L804 266"/><path class="u" d="M785 223.9L804 266"/>
<path class="s" d="M785 290.7L804 304.5"/>
<path class="r" d="M785 307.4L804 349.5"/><path class="u" d="M785 340.8L804 349.5"/>
<path class="r" d="M785 324.1L804 381.5"/><path class="u" d="M785 340.8L804 381.5"/>
<path class="r" d="M695 238.5A300 300 0 0 1 804 407.5"/><path class="u" d="M605.5 414.5A400 400 0 0 1 804 407.5"/>
<path class="r" d="M695 253.5A300 300 0 0 1 804 433.5"/><path class="u" d="M695 433A200 200 0 0 1 804 433.5"/>

<path class="r" d="M875 32.5L893.5 30.5"/><path class="u" d="M875 58L893.5 30.5"/>
<path class="r" d="M875 84L893.5 80"/><path class="u" d="M785 56.9A200 200 0 0 1 893.5 80"/>
<path class="r" d="M875 110.5L893.5 103.5"/><path class="u" d="M785 123.7A200 200 0 0 0 893.5 103.5"/>
<path class="r" d="M875 136.5L893.5 134.5"/><path class="u" d="M875 162L893.5 134.5"/>
<path class="r" d="M875 188L893.5 164.5"/><path class="u" d="M875 213.5L893.5 164.5"/>
<path class="r" d="M875 240.5L893.5 239.5"/><path class="u" d="M785 223.9A200 200 0 0 1 893.5 239.5"/>
<path class="r" d="M875 266L893.5 264.5"/><path class="u" d="M785 140.4A250 250 0 0 1 893.5 264.5"/>
<path class="r" d="M875 292L893.5 288.5"/><path class="u" d="M875 240.5L893.5 288.5"/>
<path class="s" d="M875 343.5L893.5 337.5"/>
<path class="r" d="M875 407.5L893.5 362"/><path class="u" d="M875 356L893.5 362"/>
<path class="r" d="M875 407.5L893.5 398.5"/><path class="u" d="M875 433.5L893.5 398.5"/>
<path class="r" d="M875 433.5L893.5 435.5"/><path class="u" d="M875 381.5L893.5 435.5"/>

<path class="r" d="M964.5 30.5L983.5 56.5"/><path class="u" d="M964.5 54.5L983.5 56.5"/>
<path class="s" d="M964.5 103.5L983.5 157"/>
<path class="r" d="M964.5 103.5L983.5 207"/><path class="u" d="M964.5 128.5L983.5 207"/>
<path class="r" d="M964.5 164.5L983.5 258.5"/><path class="u" d="M964.5 190.5L983.5 258.5"/>
<path class="r" d="M964.5 140.5L983.5 308.5"/><path class="u" d="M964.5 264.5L983.5 308.5"/>
<path class="r" d="M964.5 103.5L983.5 359"/><path class="u" d="M964.5 239.5L983.5 359"/>
<path class="r" d="M964.5 214.5L983.5 408.5"/><path class="u" d="M964.5 313.5L983.5 408.5"/>

<path class="r" d="M1054.5 56.5L1073 71"/><path class="u" d="M1054.5 107L1073 71"/>
<path class="r" d="M964.5 80A100 100 0 0 1 1073 135.5"/><path class="u" d="M1054.5 157L1073 135.5"/>
<path class="r" d="M875 136.5A350 350 0 0 1 1073 200.5"/><path class="u" d="M1054.5 258.5L1073 200.5"/>
<path class="r" d="M1054.5 308.5L1073 265.5"/><path class="u" d="M1054.5 359L1073 265.5"/>
<path class="r" d="M1054.5 308.5L1073 330.5"/><path class="u" d="M964.5 288.5A100 100 0 0 1 1073 330.5"/>
<path class="r" d="M1054.5 408.5L1073 395.5"/><path class="u" d="M964.5 288.5A85 85 0 0 1 1073 395.5"/>

<path class="r" d="M695 19.5A488 488 0 0 1 1163 157"/><path class="u" d="M1144 71L1163 157"/>
<path class="r" d="M1144 135.5L1163 308.5"/><path class="u" d="M1054.5 207A122 122 0 0 1 1163 308.5"/>
<path class="s" d="M1234 157L1253 232.5"/>

<path class="g" d="M88.5 41.5H97.5M88.5 147.5H97.5M88.5 232.5L97.5 218M88.5 232.5H97.5M88.5 232.5L97.5 248.5M88.5 318.5H97.5M88.5 389.5H97.5"/>
<path class="g" d="M178 113H187M178 139.8H187M178 166.5H187M178 246.5H187M178 273.2H187M178 300H187M178 406.7H187"/>
<path class="g" d="M268 38.5H277M268 70.9H277M268 103.3H277M268 135.7H277M268 168.1H277M268 200.5H277M268 232.9H277M268 265.3H277M268 330.1H277M268 394.9H277M268 427.3H277"/>
<path class="g" d="M358 59.2H367M358 139.3H367M358 192.7H367M358 219.4H367M358 246.1H367M358 299.5H367M358 352.9H367M358 379.6H367"/>
<path class="g" d="M447.5 21.5H456.5M447.5 65.2H456.5M447.5 79.7H456.5M447.5 123.4H456.5M447.5 152.5H456.5M447.5 196.1H456.5M447.5 210.7H456.5M447.5 254.3H456.5M447.5 298H456.5M447.5 312.5H456.5M447.5 356.2H456.5M447.5 399.8H456.5M447.5 414.4H456.5M447.5 428.9H456.5"/>
<path class="g" d="M537.5 26.5H546.5M537.5 39H546.5M537.5 51H546.5M537.5 75.5H546.5M537.5 99.5H546.5M537.5 124.5H546.5M537.5 148.5H546.5M537.5 160.5H546.5M537.5 222H546.5M537.5 234.5H546.5M537.5 247.5H546.5M537.5 272H546.5M537.5 296H546.5M537.5 320.5H546.5M537.5 344.5H546.5M537.5 356.5H546.5M537.5 398L546.5 393.5M537.5 398L546.5 402.5M537.5 414.5H546.5M537.5 427H546.5M537.5 439H546.5M537.5 451.5H546.5"/>
<path class="g" d="M627 37L636 33M627 37L636 42.5M627 56H636M627 74L636 69.5M627 74L636 79M627 118.5H636M627 132H636M627 145.5H636M627 158.5H636M627 172H636M627 185.5H636M627 198.5H636M627 225.5H636M627 253.5H636M627 279.5H636M627 293.5H636M627 306.5H636M627 347.5H636M627 365L636 360.5M627 365L636 369.5M627 383H636M627 401.5L636 397M627 401.5L636 406.5M627 419.5H636M627 433H636M627 446H636"/>
<path class="g" d="M717 23.5H726M717 56.9H726M717 73.6H726M717 90.3H726M717 123.7H726M717 140.4H726M717 157.1H726M717 190.5H726M717 240.6H726M717 290.7H726M717 307.4H726M717 357.5H726M717 374.2H726M717 390.9H726M717 407.6H726M717 424.3H726M717 441H726"/>
<path class="g" d="M807 32.5H816M807 84H816M807 110.5H816M807 136.5H816M807 188H816M807 240.5H816M807 266H816M807 304.5L816 292M807 304.5H816M807 304.5L816 317.5M807 349.5L816 343.5M807 349.5L816 356M807 381.5H816M807 407.5H816M807 433.5H816"/>
<path class="g" d="M896.5 30.5H905.5M896.5 80H905.5M896.5 103.5H905.5M896.5 134.5L905.5 128.5M896.5 134.5L905.5 140.5M896.5 164.5H905.5M896.5 239.5H905.5M896.5 264.5H905.5M896.5 288.5H905.5M896.5 337.5H905.5M896.5 362H905.5M896.5 398.5L905.5 386.5M896.5 398.5H905.5M896.5 398.5L905.5 411M896.5 435.5H905.5"/>
<path class="g" d="M986.5 56.5H995.5M986.5 157H995.5M986.5 207H995.5M986.5 258.5H995.5M986.5 308.5H995.5M986.5 359H995.5M986.5 408.5H995.5"/>
<path class="g" d="M1076 71H1085M1076 135.5H1085M1076 200.5H1085M1076 265.5H1085M1076 330.5H1085M1076 395.5H1085M1166 157H1175M1166 308.5H1175M1256 232.5H1265"/>

<use href="#cx" x="85.5" y="41.5"/><use href="#co" x="85.5" y="147.5"/><use href="#cx" x="85.5" y="232.5"/><use href="#cx" x="85.5" y="318.5"/><use href="#cx" x="85.5" y="389.5"/>
<use href="#cx" x="175" y="113"/><use href="#cx" x="175" y="139.8"/><use href="#cx" x="175" y="166.5"/><use href="#cx" x="175" y="246.5"/><use href="#cx" x="175" y="273.2"/><use href="#cx" x="175" y="300"/><use href="#cx" x="175" y="406.7"/>
<use href="#cx" x="265" y="38.5"/><use href="#cx" x="265" y="70.9"/><use href="#cx" x="265" y="103.3"/><use href="#cx" x="265" y="135.7"/><use href="#cx" x="265" y="168.1"/><use href="#cx" x="265" y="200.5"/><use href="#cx" x="265" y="232.9"/><use href="#cx" x="265" y="265.3"/><use href="#cx" x="265" y="330.1"/><use href="#cx" x="265" y="394.9"/><use href="#cx" x="265" y="427.3"/>
<use href="#cx" x="355" y="59.2"/><use href="#cx" x="355" y="139.3"/><use href="#cx" x="355" y="192.7"/><use href="#co" x="355" y="219.4"/><use href="#co" x="355" y="246.1"/><use href="#cx" x="355" y="299.5"/><use href="#cx" x="355" y="352.9"/><use href="#cx" x="355" y="379.6"/>
<use href="#cx" x="444.5" y="21.5"/><use href="#cx" x="444.5" y="65.2"/><use href="#cx" x="444.5" y="79.7"/><use href="#cx" x="444.5" y="123.4"/><use href="#cx" x="444.5" y="152.5"/><use href="#cx" x="444.5" y="196.1"/><use href="#cx" x="444.5" y="210.7"/><use href="#cx" x="444.5" y="254.3"/><use href="#cx" x="444.5" y="298"/><use href="#co" x="444.5" y="312.5"/><use href="#cx" x="444.5" y="356.2"/><use href="#cx" x="444.5" y="399.8"/><use href="#cx" x="444.5" y="414.4"/><use href="#co" x="444.5" y="428.9"/>
<use href="#cx" x="534.5" y="26.5"/><use href="#cx" x="534.5" y="39"/><use href="#cx" x="534.5" y="51"/><use href="#cx" x="534.5" y="75.5"/><use href="#cx" x="534.5" y="99.5"/><use href="#cx" x="534.5" y="124.5"/><use href="#cx" x="534.5" y="148.5"/><use href="#cx" x="534.5" y="160.5"/><use href="#cx" x="534.5" y="222"/><use href="#cx" x="534.5" y="234.5"/><use href="#cx" x="534.5" y="247.5"/><use href="#cx" x="534.5" y="272"/><use href="#cx" x="534.5" y="296"/><use href="#cx" x="534.5" y="320.5"/><use href="#cx" x="534.5" y="344.5"/><use href="#cx" x="534.5" y="356.5"/><use href="#cx" x="534.5" y="398"/><use href="#cx" x="534.5" y="414.5"/><use href="#cx" x="534.5" y="427"/><use href="#cx" x="534.5" y="439"/><use href="#co" x="534.5" y="451.5"/>
<use href="#cx" x="624" y="37"/><use href="#cx" x="624" y="56"/><use href="#cx" x="624" y="74"/><use href="#cx" x="624" y="118.5"/><use href="#cx" x="624" y="132"/><use href="#cx" x="624" y="145.5"/><use href="#cx" x="624" y="158.5"/><use href="#cx" x="624" y="172"/><use href="#cx" x="624" y="185.5"/><use href="#cx" x="624" y="198.5"/><use href="#cx" x="624" y="225.5"/><use href="#cx" x="624" y="253.5"/><use href="#cx" x="624" y="279.5"/><use href="#cx" x="624" y="293.5"/><use href="#cx" x="624" y="306.5"/><use href="#cx" x="624" y="347.5"/><use href="#cx" x="624" y="365"/><use href="#cx" x="624" y="383"/><use href="#cx" x="624" y="401.5"/><use href="#cx" x="624" y="419.5"/><use href="#cx" x="624" y="433"/><use href="#co" x="624" y="446"/>
<use href="#cx" x="714" y="23.5"/><use href="#cx" x="714" y="56.9"/><use href="#cx" x="714" y="73.6"/><use href="#cx" x="714" y="90.3"/><use href="#cx" x="714" y="123.7"/><use href="#cx" x="714" y="140.4"/><use href="#cx" x="714" y="157.1"/><use href="#cx" x="714" y="190.5"/><use href="#cx" x="714" y="240.6"/><use href="#cx" x="714" y="290.7"/><use href="#cx" x="714" y="307.4"/><use href="#cx" x="714" y="357.5"/><use href="#co" x="714" y="374.2"/><use href="#cx" x="714" y="390.9"/><use href="#cx" x="714" y="407.6"/><use href="#co" x="714" y="424.3"/><use href="#cx" x="714" y="441"/>
<use href="#cx" x="804" y="32.5"/><use href="#cx" x="804" y="84"/><use href="#cx" x="804" y="110.5"/><use href="#cx" x="804" y="136.5"/><use href="#cx" x="804" y="188"/><use href="#cx" x="804" y="240.5"/><use href="#cx" x="804" y="266"/><use href="#co" x="804" y="304.5"/><use href="#cx" x="804" y="349.5"/><use href="#cx" x="804" y="381.5"/><use href="#cx" x="804" y="407.5"/><use href="#cx" x="804" y="433.5"/>
<use href="#cx" x="893.5" y="30.5"/><use href="#cx" x="893.5" y="80"/><use href="#cx" x="893.5" y="103.5"/><use href="#cx" x="893.5" y="134.5"/><use href="#cx" x="893.5" y="164.5"/><use href="#cx" x="893.5" y="239.5"/><use href="#cx" x="893.5" y="264.5"/><use href="#cx" x="893.5" y="288.5"/><use href="#co" x="893.5" y="337.5"/><use href="#cx" x="893.5" y="362"/><use href="#cx" x="893.5" y="398.5"/><use href="#cx" x="893.5" y="435.5"/>
<use href="#cx" x="983.5" y="56.5"/><use href="#co" x="983.5" y="157"/><use href="#cx" x="983.5" y="207"/><use href="#cx" x="983.5" y="258.5"/><use href="#cx" x="983.5" y="308.5"/><use href="#cx" x="983.5" y="359"/><use href="#cx" x="983.5" y="408.5"/>
<use href="#cx" x="1073" y="71"/><use href="#cx" x="1073" y="135.5"/><use href="#cx" x="1073" y="200.5"/><use href="#cx" x="1073" y="265.5"/><use href="#cx" x="1073" y="330.5"/><use href="#cx" x="1073" y="395.5"/>
<use href="#cx" x="1163" y="157"/><use href="#cx" x="1163" y="308.5"/><use href="#co" x="1253" y="232.5"/>
</g>
</svg>
